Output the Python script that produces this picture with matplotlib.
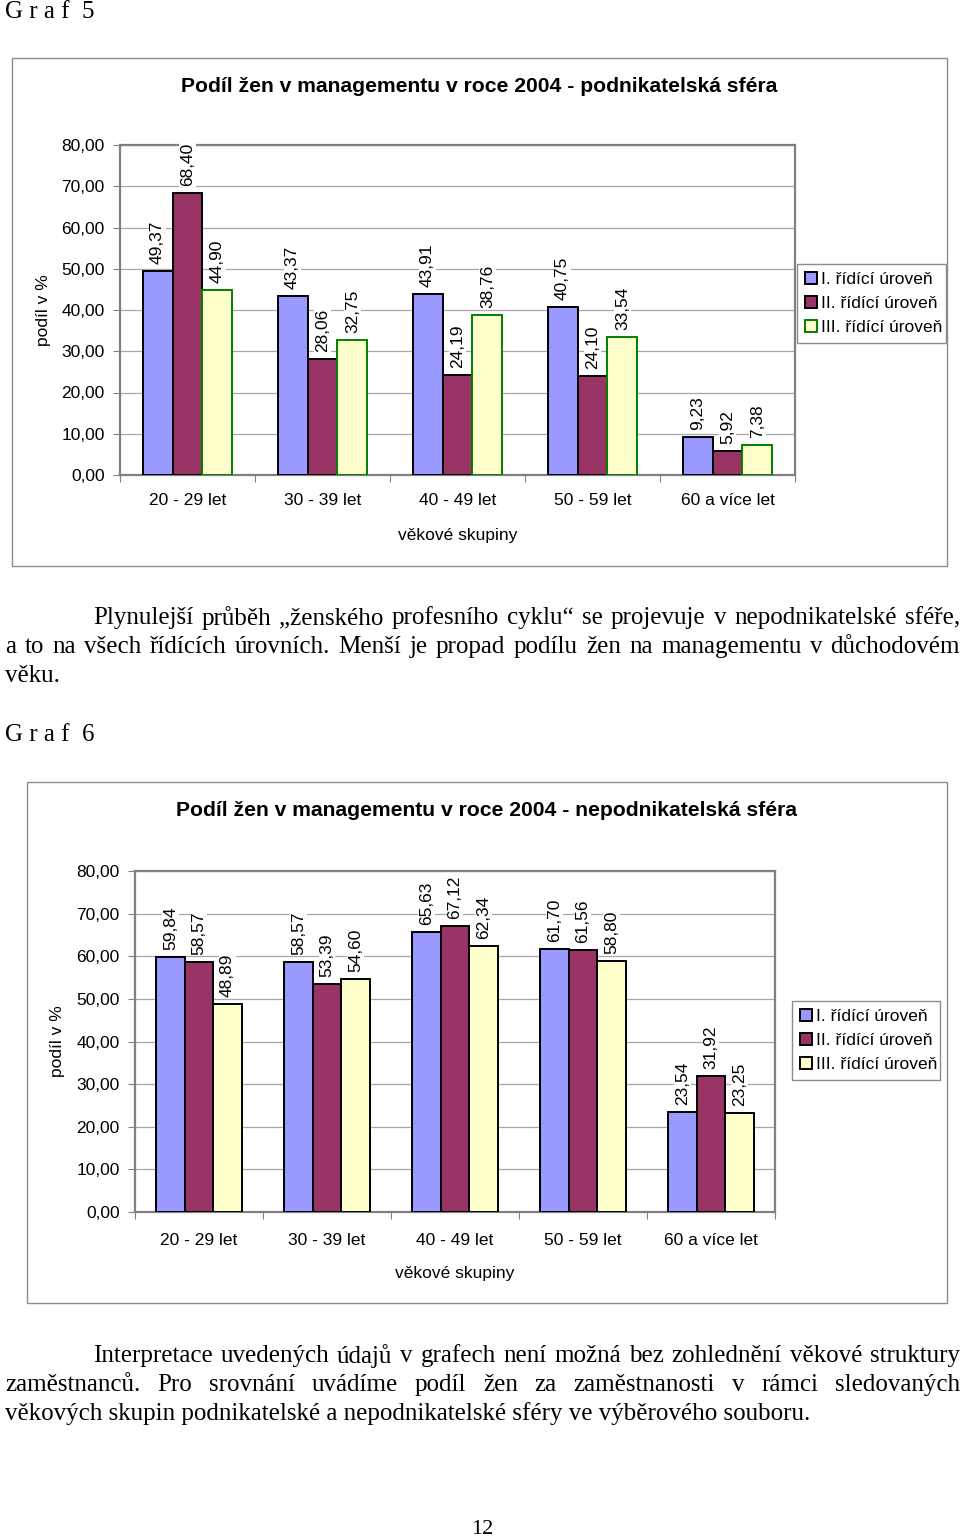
import matplotlib
matplotlib.use("Agg")
import matplotlib.pyplot as plt
from matplotlib.patches import Rectangle
import numpy as np

plt.rcParams["font.family"] = ["Liberation Sans", "DejaVu Sans"]
SERIF = ["Liberation Serif", "DejaVu Serif"]

# ── data ──────────────────────────────────────────────────────
categories = ["20 - 29 let", "30 - 39 let", "40 - 49 let", "50 - 59 let", "60 a více let"]
series_names = ["I. řídící úroveň", "II. řídící úroveň", "III. řídící úroveň"]

# Graf 5 - podnikatelská sféra
biz_I = [49.37, 43.37, 43.91, 40.75, 9.23]
biz_II = [68.40, 28.06, 24.19, 24.10, 5.92]
biz_III = [44.90, 32.75, 38.76, 33.54, 7.38]

# Graf 6 - nepodnikatelská sféra
nonbiz_I = [59.84, 58.57, 65.63, 61.70, 23.54]
nonbiz_II = [58.57, 53.39, 67.12, 61.56, 31.92]
nonbiz_III = [48.89, 54.60, 62.34, 58.80, 23.25]

y_ticks = [0, 10, 20, 30, 40, 50, 60, 70, 80]

para1 = [
    "Plynulejší průběh „ženského profesního cyklu“ se projevuje v nepodnikatelské sféře,",
    "a to na všech řídících úrovních. Menší je propad podílu žen na managementu v důchodovém",
    "věku.",
]
para2 = [
    "Interpretace uvedených údajů v grafech není možná bez zohlednění věkové struktury",
    "zaměstnanců. Pro srovnání uvádíme podíl žen za zaměstnanosti v rámci sledovaných",
    "věkových skupin podnikatelské a nepodnikatelské sféry ve výběrového souboru.",
]

# ── figure ────────────────────────────────────────────────────
W, H = 960, 1539
fig = plt.figure(figsize=(W / 100, H / 100), dpi=100)
renderer = fig.canvas.get_renderer()


def fx(px):
    return px / W


def fy(py):
    return 1 - py / H


fills = ["#9999FF", "#993366", "#FFFFCC"]
GRID = "#A8A8A8"
FRAME = "#8C8C8C"


def comma(v):
    return f"{v:.2f}".replace(".", ",")


def bar_chart(box, axpos, title, title_xy, series, edges, legend_xy, ylabel_x, xtick_pad, xlabel_pad):
    x0, y0, x1, y1 = box
    fig.patches.append(Rectangle((fx(x0), fy(y1)), (x1 - x0) / W, (y1 - y0) / H,
                                 transform=fig.transFigure, fill=False, ec=FRAME, lw=1))
    l, t, r, b = axpos
    ax = fig.add_axes([fx(l), fy(b), (r - l) / W, (b - t) / H])

    x = np.arange(len(categories))
    w = 0.222
    handles = []
    for k, vals in enumerate(series):
        bars = ax.bar(x + (k - 1) * w, vals, w, color=fills[k], edgecolor=edges[k],
                      linewidth=1.4, label=series_names[k], zorder=3)
        handles.append(bars)
        for xi, v in zip(x, vals):
            ax.annotate(comma(v), (xi + (k - 1) * w, v), xytext=(0, 5),
                        textcoords="offset points", rotation=90, ha="center", va="bottom",
                        fontsize=12.5, bbox=dict(fc="white", ec="none", pad=0.5), zorder=4)

    ax.set_xlim(-0.5, len(categories) - 0.5)
    ax.set_ylim(0, 80)
    ax.set_yticks(y_ticks)
    ax.set_yticklabels([comma(v) for v in y_ticks])
    ax.tick_params(axis="y", length=5, color="#808080", pad=6, labelsize=12.5)

    ax.set_xticks(np.arange(-0.5, len(categories), 1))
    ax.set_xticklabels([])
    ax.set_xticks(x, minor=True)
    ax.set_xticklabels(categories, minor=True)
    ax.tick_params(axis="x", which="major", length=5, color="#808080")
    ax.tick_params(axis="x", which="minor", length=0, pad=xtick_pad, labelsize=12.5)

    ax.yaxis.grid(True, color=GRID, lw=0.9)
    ax.set_axisbelow(True)
    for s in ax.spines.values():
        s.set_color("#808080")
        s.set_linewidth(1.6)

    ax.set_ylabel("podíl v %", fontsize=12.5)
    ax.yaxis.set_label_coords(ylabel_x, 0.5)
    ax.set_xlabel("věkové skupiny", fontsize=12.5, labelpad=xlabel_pad)

    fig.text(fx(title_xy[0]), fy(title_xy[1]), title, fontsize=15.2, fontweight="bold",
             ha="center", va="center")

    ax.legend(handles=handles, loc="upper left",
              bbox_to_anchor=(fx(legend_xy[0]), fy(legend_xy[1]), fx(legend_xy[2] - legend_xy[0]), 0.001),
              bbox_transform=fig.transFigure, mode="expand",
              frameon=True, fancybox=False, edgecolor=FRAME, framealpha=1, fontsize=12.5,
              handlelength=0.7, handleheight=0.7, handletextpad=0.25, borderpad=0.45,
              labelspacing=0.5, borderaxespad=0)
    ax.get_legend().get_frame().set_linewidth(1)
    return ax


def justified(line, xa, xb, y, size):
    words = line.split()
    arts = [fig.text(0, fy(y), wd, fontsize=size, family=SERIF, va="center") for wd in words]
    widths = [a.get_window_extent(renderer).width for a in arts]
    gap = (xb - xa - sum(widths)) / max(len(words) - 1, 1)
    pos = xa
    for a, wd in zip(arts, widths):
        a.set_x(fx(pos))
        pos += wd + gap


# Graf 5
fig.text(fx(5), fy(12), "G r a f  5", fontsize=18, family=SERIF, va="center")
bar_chart(box=(12, 58, 947, 566), axpos=(120, 145, 795, 475),
          title="Podíl žen v managementu v roce 2004 - podnikatelská sféra", title_xy=(479, 87),
          series=[biz_I, biz_II, biz_III], edges=["#000000", "#000000", "#008000"],
          legend_xy=(797, 266, 946), ylabel_x=-0.102, xtick_pad=13, xlabel_pad=14)

# text between charts
TS = 18
justified(para1[0], 93, 960, 618, TS)
justified(para1[1], 5, 960, 647, TS)
fig.text(fx(5), fy(676), para1[2], fontsize=TS, family=SERIF, va="center")

# Graf 6
fig.text(fx(5), fy(735), "G r a f  6", fontsize=18, family=SERIF, va="center")
bar_chart(box=(27, 782, 947, 1303), axpos=(135, 871, 775, 1212),
          title="Podíl žen v managementu v roce 2004 - nepodnikatelská sféra", title_xy=(487, 810),
          series=[nonbiz_I, nonbiz_II, nonbiz_III], edges=["#000000", "#000000", "#000000"],
          legend_xy=(792, 1003, 940), ylabel_x=-0.109, xtick_pad=15, xlabel_pad=13)

justified(para2[0], 93, 960, 1356, TS)
justified(para2[1], 5, 960, 1385, TS)
fig.text(fx(5), fy(1414), para2[2], fontsize=TS, family=SERIF, va="center")

fig.text(fx(482), fy(1530), "12", fontsize=16, family=SERIF, ha="center", va="center")

fig.savefig("out.png", dpi=100)
